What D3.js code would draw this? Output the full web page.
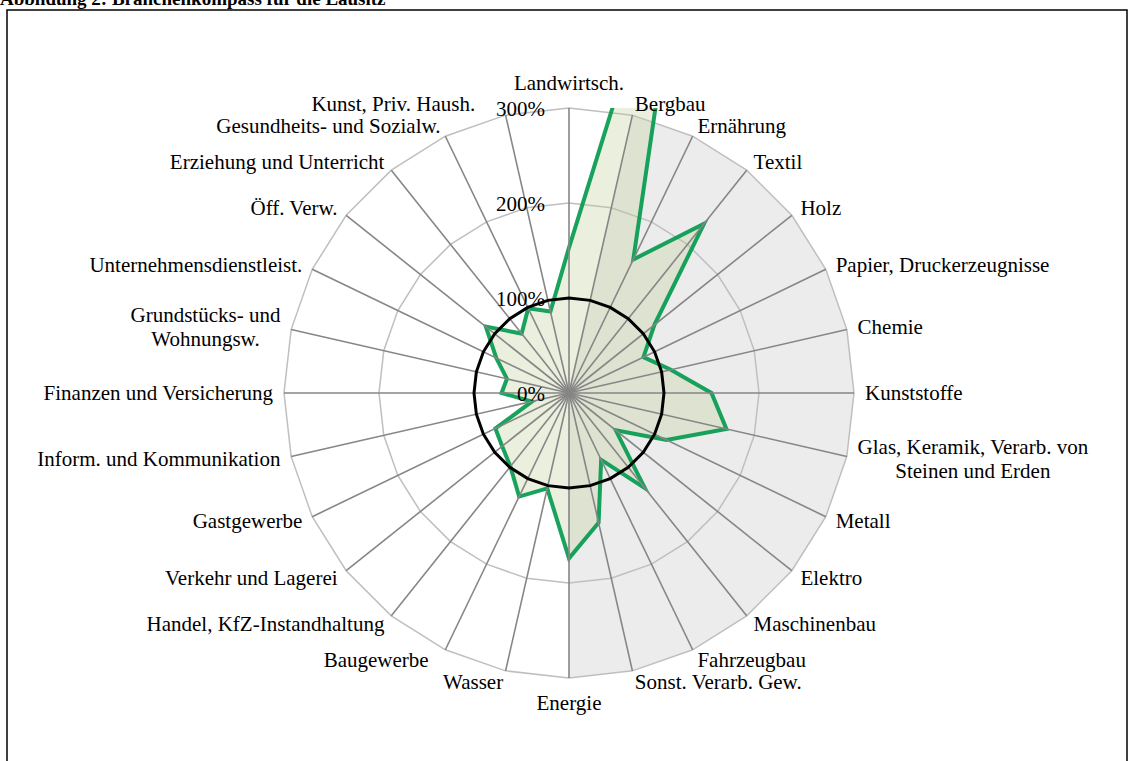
<!DOCTYPE html>
<html>
<head>
<meta charset="UTF-8">
<title>Branchenkompass Lausitz</title>
<script src="https://d3js.org/d3.v7.min.js"></script>
<style>
    body { margin: 0; background: #fff; }
    svg { display: block; }
    text { font-family: "Liberation Serif", "Times New Roman", serif; fill: #000; }
</style>
</head>
<body>
<svg id="chart" width="1129" height="761"></svg>
<script>
// Branchen (im Uhrzeigersinn, oben beginnend)
var categories = [
    "Landwirtsch.", "Bergbau", "Ernährung", "Textil", "Holz", "Papier, Druckerzeugnisse",
    "Chemie", "Kunststoffe", "Glas, Keramik, Verarb. von\nSteinen und Erden", "Metall",
    "Elektro", "Maschinenbau", "Fahrzeugbau", "Sonst. Verarb. Gew.", "Energie", "Wasser",
    "Baugewerbe", "Handel, KfZ-Instandhaltung", "Verkehr und Lagerei", "Gastgewerbe",
    "Inform. und Kommunikation", "Finanzen und Versicherung", "Grundstücks- und\nWohnungsw.",
    "Unternehmensdienstleist.", "Öff. Verw.", "Erziehung und Unterricht",
    "Gesundheits- und Sozialw.", "Kunst, Priv. Haush."
];

// Lausitz, in % (Bund = 100 %)
var lausitz = [153, 590, 156, 228, 115, 87, 110, 150, 170, 114, 63, 128, 78, 140,
               174, 103, 121, 99, 90, 86, 40, 71, 67, 85, 112, 80, 99, 88];

// Hinterlegung Produzierendes Gewerbe
var produzierend = [0, 300, 300, 300, 300, 300, 300, 300, 300, 300, 300, 300, 300, 300,
                    300, 0, 0, 0, 0, 0, 0, 0, 0, 0, 0, 0, 0, 0];

// Referenzlinie 100 %
var referenz = categories.map(function () { return 100; });

var ticks = [0, 100, 200, 300];
var tickLabels = ["0%", "100%", "200%", "300%"];

var svg = d3.select("#chart");
var cx = 569, cy = 393, R = 285;
var fontSize = 21, lineH = 23.3;

var r = d3.scaleLinear().domain([0, 300]).range([0, R]);
var angle = d3.scaleLinear().domain([0, categories.length]).range([0, 2 * Math.PI]);

var radial = d3.lineRadial()
    .angle(function (d, i) { return angle(i); })
    .radius(function (d) { return r(d); })
    .curve(d3.curveLinearClosed);

// Titel (oben abgeschnitten wie im Original)
svg.append("text")
    .attr("x", 0).attr("y", 5)
    .style("font-size", "19px").style("font-weight", "bold")
    .text("Abbildung 2: Branchenkompass für die Lausitz");

svg.append("rect")
    .attr("x", 7).attr("y", 10).attr("width", 1120).attr("height", 770)
    .attr("fill", "none").attr("stroke", "#000").attr("stroke-width", 1.5);

svg.append("defs").append("clipPath").attr("id", "plotclip")
    .append("rect").attr("x", 0).attr("y", cy - R).attr("width", 1129).attr("height", 761);

var g = svg.append("g").attr("transform", "translate(" + cx + "," + cy + ")");

// Hinterlegung
g.append("path").datum(produzierend)
    .attr("d", radial)
    .attr("fill", "#ececec").attr("stroke", "none");

// Gitterringe
g.selectAll("path.ring").data(ticks.slice(1)).enter().append("path")
    .attr("class", "ring")
    .attr("d", function (t) { return radial(categories.map(function () { return t; })); })
    .attr("fill", "none").attr("stroke", "#bfbfbf").attr("stroke-width", 1.5);

// Lausitz Fläche
var series = g.append("g").attr("clip-path", "url(#plotclip)")
    .attr("transform", "translate(" + (-cx) + "," + (-cy) + ")")
    .append("g").attr("transform", "translate(" + cx + "," + cy + ")");

series.append("path").datum(lausitz)
    .attr("d", radial)
    .attr("fill", "rgb(188,202,145)").attr("fill-opacity", 0.3).attr("stroke", "none");

// Speichen
g.selectAll("line.spoke").data(categories).enter().append("line")
    .attr("class", "spoke")
    .attr("x1", 0).attr("y1", 0)
    .attr("x2", function (d, i) { return d3.pointRadial(angle(i), R)[0]; })
    .attr("y2", function (d, i) { return d3.pointRadial(angle(i), R)[1]; })
    .attr("stroke", "#868686").attr("stroke-width", 1.6);

series.append("path").datum(lausitz)
    .attr("d", radial)
    .attr("fill", "none").attr("stroke", "#00994c").attr("stroke-opacity", 0.9)
    .attr("stroke-width", 4).attr("stroke-linejoin", "miter");

// Referenz 100 %
g.append("path").datum(referenz)
    .attr("d", radial)
    .attr("fill", "none").attr("stroke", "#000").attr("stroke-width", 3);

// Achsenbeschriftung
g.selectAll("text.tick").data(ticks).enter().append("text")
    .attr("class", "tick")
    .attr("x", -24)
    .attr("y", function (t) { return -r(t) + 8; })
    .attr("text-anchor", "end")
    .style("font-size", fontSize + "px")
    .text(function (t, i) { return tickLabels[i]; });

// Kategorienbeschriftung
var nudge = { "Kunst, Priv. Haush.": -28, "Baugewerbe": -12 };

categories.forEach(function (name, i) {
    var a = angle(i);
    var s = Math.sin(a), c = Math.cos(a);
    var p = d3.pointRadial(a, R);
    var lines = name.split("\n");
    var t = g.append("text").attr("text-anchor", "middle").style("font-size", fontSize + "px");
    lines.forEach(function (l) { t.append("tspan").text(l); });
    var w = d3.max(t.selectAll("tspan").nodes(), function (n) { return n.getComputedTextLength(); });
    var h = lines.length * lineH;
    var bx, by;
    if (Math.abs(s) < 0.05) {
        bx = p[0];
        by = p[1] - c * (11 + h / 2 + 2);
    } else if (s > 0) {
        bx = p[0] + 11 * s + w / 2;
        by = p[1] - 11 * c;
    } else {
        bx = p[0] + 11 * s - w / 2;
        by = p[1] - 11 * c;
    }
    bx += nudge[name] || 0;
    t.selectAll("tspan")
        .attr("x", bx)
        .attr("y", function (d, k) { return by + (k - (lines.length - 1) / 2) * lineH + 7; });
});
</script>
</body>
</html>
